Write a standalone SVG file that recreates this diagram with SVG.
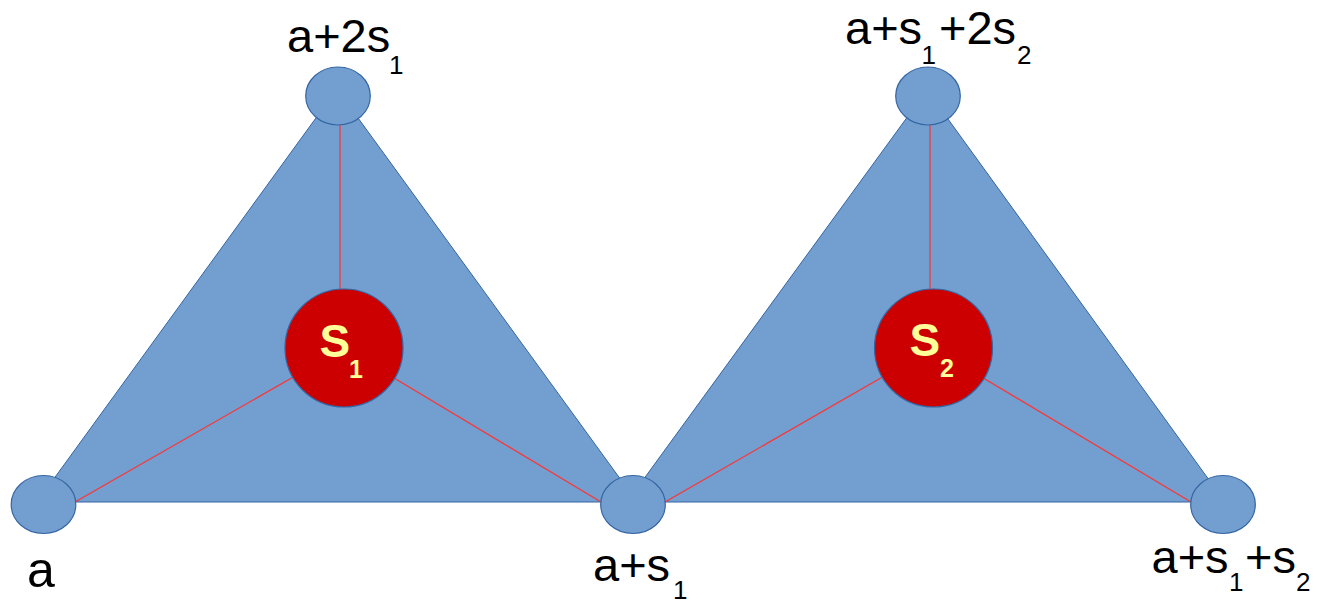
<svg xmlns="http://www.w3.org/2000/svg" width="1321" height="604" viewBox="0 0 1321 604">
<style>
.tri{fill:#729fcf;stroke:#3465a4;stroke-width:1}
.v{fill:#729fcf;stroke:#3465a4;stroke-width:1.2}
.c{fill:#cc0000;stroke:#3465a4;stroke-width:1.2}
.ln{stroke:#ff3333;stroke-width:1.2;fill:none}
.lbl{font-family:"Liberation Sans",Arial,sans-serif;font-size:47px;fill:#000}
.sub{font-family:"Liberation Sans",Arial,sans-serif;font-size:26px;fill:#000}
.cs{font-family:"Liberation Sans",Arial,sans-serif;font-weight:bold;font-size:46px;fill:#ffff99}
.csub{font-family:"Liberation Sans",Arial,sans-serif;font-weight:bold;font-size:25px;fill:#ffff99}
</style>
<rect width="1321" height="604" fill="#ffffff"/>
<g id="triangle1"><polygon class="tri" points="37,502 337,89 637,502"/></g>
<g id="triangle2"><polygon class="tri" points="627,502 927,90 1225,502"/></g>
<g id="connectors">
<line class="ln" x1="340" y1="125" x2="340" y2="348"/>
<line class="ln" x1="75" y1="502" x2="344" y2="348"/>
<line class="ln" x1="601" y1="502" x2="344" y2="348"/>
<line class="ln" x1="930" y1="125" x2="930" y2="348"/>
<line class="ln" x1="665" y1="502" x2="933" y2="348"/>
<line class="ln" x1="1191" y1="502" x2="933" y2="348"/>
</g>
<g id="node-a"><ellipse class="v" cx="43.5" cy="504.5" rx="32.3" ry="29"/>
<text class="lbl" x="27" y="587" style="font-size:50px">a</text></g>
<g id="node-a2s1"><ellipse class="v" cx="338" cy="96" rx="32.3" ry="29"/>
<text class="lbl" x="287" y="52">a+2s</text><text class="sub" x="389" y="74">1</text></g>
<g id="node-as1"><ellipse class="v" cx="633" cy="504.5" rx="32.3" ry="29"/>
<text class="lbl" x="593" y="581">a+s</text><text class="sub" x="673" y="599">1</text></g>
<g id="node-as12s2"><ellipse class="v" cx="928" cy="96" rx="32.3" ry="29"/>
<text class="lbl" x="845" y="44">a+s</text><text class="sub" x="921.5" y="64">1</text>
<text class="lbl" x="939" y="44">+2s</text><text class="sub" x="1017" y="64">2</text></g>
<g id="node-as1s2"><ellipse class="v" cx="1223" cy="504.5" rx="32.3" ry="29"/>
<text class="lbl" x="1151.5" y="573">a+s</text><text class="sub" x="1229" y="591">1</text>
<text class="lbl" x="1245" y="573">+s</text><text class="sub" x="1296" y="591">2</text></g>
<g id="node-S1"><circle class="c" cx="344" cy="348" r="59"/>
<text class="cs" x="319.5" y="357">S</text><text class="csub" x="349" y="378">1</text></g>
<g id="node-S2"><circle class="c" cx="933.5" cy="348" r="59"/>
<text class="cs" x="909.5" y="356">S</text><text class="csub" x="940" y="377">2</text></g>
</svg>
